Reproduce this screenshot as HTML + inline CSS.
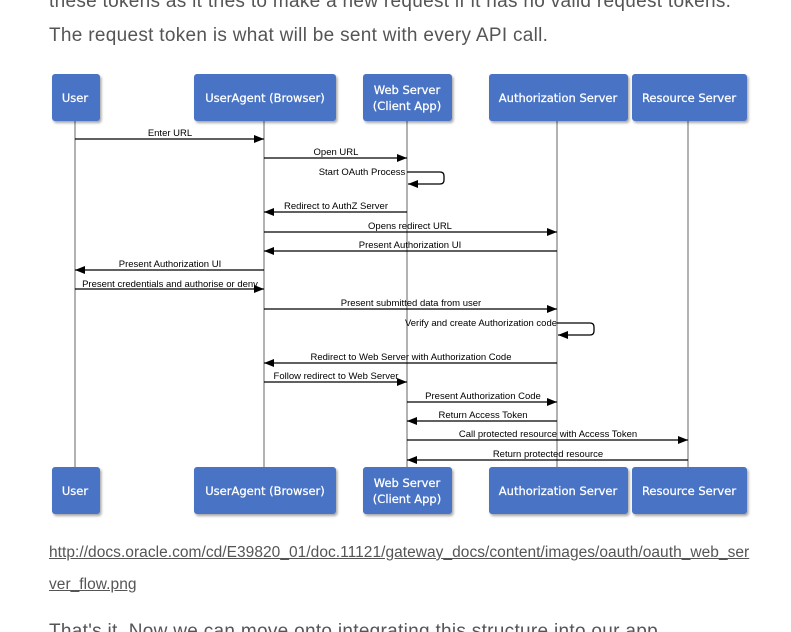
<!DOCTYPE html>
<html><head><meta charset="utf-8"><style>
html,body{margin:0;padding:0;background:#fff;width:791px;height:632px;overflow:hidden;position:relative;font-family:"Liberation Sans",sans-serif}
.t{position:absolute;left:49px;color:#555;font-size:19px;font-weight:300;white-space:nowrap;letter-spacing:0.3px}
.l{position:absolute;left:49px;color:#555;font-size:15.5px;text-decoration:underline;white-space:nowrap;letter-spacing:0.04px}
svg{position:absolute;left:0;top:0}
</style></head><body>
<div class="t" style="top:-9px">these tokens as it tries to make a new request if it has no valid request tokens.</div>
<div class="t" style="top:25px">The request token is what will be sent with every API call.</div>
<div class="l" style="top:544px">http://docs.oracle.com/cd/E39820_01/doc.11121/gateway_docs/content/images/oauth/oauth_web_ser</div>
<div class="l" style="top:576px">ver_flow.png</div>
<div class="t" style="top:621px">That's it. Now we can move onto integrating this structure into our app.</div>
<svg width="791" height="632" xmlns="http://www.w3.org/2000/svg" font-family="Liberation Sans, sans-serif">
<defs>
<marker id="a" markerWidth="10" markerHeight="8" refX="10" refY="4" orient="auto" markerUnits="userSpaceOnUse"><path d="M0,0L10,4L0,8z" fill="#000"/></marker>
<filter id="s" x="-10%" y="-10%" width="130%" height="130%"><feDropShadow dx="1.5" dy="2" stdDeviation="1.2" flood-color="#000" flood-opacity="0.35"/></filter>
</defs>
<g stroke="#999" stroke-width="1.5">
<line x1="75" y1="121" x2="75" y2="467"/><line x1="264" y1="121" x2="264" y2="467"/><line x1="407" y1="121" x2="407" y2="467"/><line x1="557" y1="121" x2="557" y2="467"/><line x1="688" y1="121" x2="688" y2="467"/>
</g>
<g fill="#4a73c4" filter="url(#s)">
<rect x="52" y="74" width="48" height="47" rx="3"/><rect x="194" y="74" width="142" height="47" rx="3"/><rect x="363" y="74" width="89" height="47" rx="3"/><rect x="489" y="74" width="139" height="47" rx="3"/><rect x="632" y="74" width="115" height="47" rx="3"/>
<rect x="52" y="467" width="48" height="47" rx="3"/><rect x="194" y="467" width="142" height="47" rx="3"/><rect x="363" y="467" width="89" height="47" rx="3"/><rect x="489" y="467" width="139" height="47" rx="3"/><rect x="632" y="467" width="115" height="47" rx="3"/>
</g>
<g fill="#fff" font-size="11.5" text-anchor="middle" font-family="DejaVu Sans, sans-serif" stroke="#fff" stroke-width="0.25">
<text x="75" y="102">User</text><text x="265" y="102">UserAgent (Browser)</text><text x="407" y="94">Web Server</text><text x="407" y="110">(Client App)</text><text x="558" y="102">Authorization Server</text><text x="689" y="102">Resource Server</text>
<text x="75" y="495">User</text><text x="265" y="495">UserAgent (Browser)</text><text x="407" y="487">Web Server</text><text x="407" y="503">(Client App)</text><text x="558" y="495">Authorization Server</text><text x="689" y="495">Resource Server</text>
</g>
<g stroke="#000" stroke-width="1.3" marker-end="url(#a)" fill="none">
<line x1="75" y1="139" x2="264" y2="139"/>
<line x1="264" y1="158" x2="407" y2="158"/>
<path d="M407,172H440Q444,172 444,176V180Q444,184 440,184H408"/>
<line x1="407" y1="212" x2="264" y2="212"/>
<line x1="264" y1="232" x2="557" y2="232"/>
<line x1="557" y1="251" x2="264" y2="251"/>
<line x1="264" y1="270" x2="75" y2="270"/>
<line x1="75" y1="289" x2="264" y2="289"/>
<line x1="264" y1="309" x2="557" y2="309"/>
<path d="M557,323H590Q594,323 594,327V331Q594,335 590,335H558"/>
<line x1="557" y1="363" x2="264" y2="363"/>
<line x1="264" y1="382" x2="407" y2="382"/>
<line x1="407" y1="402" x2="557" y2="402"/>
<line x1="557" y1="421" x2="407" y2="421"/>
<line x1="407" y1="440" x2="688" y2="440"/>
<line x1="688" y1="460" x2="407" y2="460"/>
</g>
<g fill="#000" font-size="9.5" text-anchor="middle">
<text x="170" y="136">Enter URL</text>
<text x="336" y="155">Open URL</text>
<text x="362" y="175">Start OAuth Process</text>
<text x="336" y="209">Redirect to AuthZ Server</text>
<text x="410" y="229">Opens redirect URL</text>
<text x="410" y="248">Present Authorization UI</text>
<text x="170" y="267">Present Authorization UI</text>
<text x="170" y="287">Present credentials and authorise or deny</text>
<text x="411" y="306">Present submitted data from user</text>
<text x="481" y="326">Verify and create Authorization code</text>
<text x="411" y="360">Redirect to Web Server with Authorization Code</text>
<text x="336" y="379">Follow redirect to Web Server</text>
<text x="483" y="399">Present Authorization Code</text>
<text x="483" y="418">Return Access Token</text>
<text x="548" y="437">Call protected resource with Access Token</text>
<text x="548" y="457">Return protected resource</text>
</g>
</svg>
</body></html>
